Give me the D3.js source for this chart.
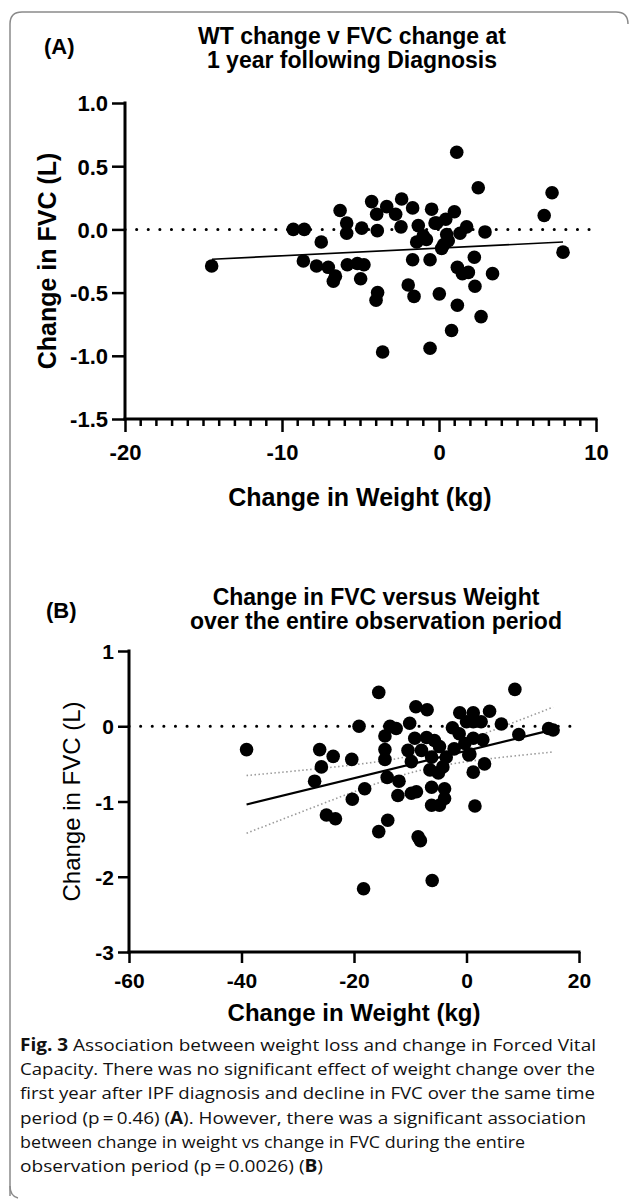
<!DOCTYPE html>
<html>
<head>
<meta charset="utf-8">
<script src="https://cdn.jsdelivr.net/npm/d3@7"></script>
<style>
  body { margin: 0; background: #fff; }
  svg { display: block; }
</style>
</head>
<body>
<svg id="canvas" width="630" height="1200"></svg>
<script>
// panel A: weight change vs FVC change at 1 year
let weightA = [1.13, 2.5, 7.2, 6.7, 7.9, -6.3, -4.29, -3.33, -3.97, -2.76, -2.38, -1.68, -0.47, -0.25, 0.98, 0.43,
  -5.88, -5.88, -4.92, -3.93, -2.42, -1.32, -1.0, -1.42, 0.49, 0.59, 0.17, 1.34, 1.76, 2.93, -7.5, -9.28, -8.58,
  -8.64, -7.8, -7.05, -6.73, -6.6, -5.84, -5.2, -4.78, -4.99, -3.91, -4.01, -1.68, -0.57, -1.96, -1.59, 0.02,
  2.25, 1.17, 1.49, 1.87, 3.41, 2.29, 1.17, 2.68, 0.8, -3.59, -0.57, -14.48, -0.15, -0.8, 0.3]
let fvcA = [0.61, 0.33, 0.29, 0.11, -0.18, 0.15, 0.22, 0.18, 0.12, 0.12, 0.24, 0.17, 0.16, 0.05, 0.14, 0.08,
  0.05, -0.03, 0.01, -0.01, 0.02, 0.03, -0.05, -0.1, -0.04, -0.09, -0.15, -0.03, 0.02, -0.02, -0.1, 0.0, 0.0,
  -0.25, -0.29, -0.3, -0.41, -0.37, -0.28, -0.27, -0.28, -0.39, -0.5, -0.56, -0.24, -0.24, -0.44, -0.53, -0.51,
  -0.22, -0.3, -0.35, -0.34, -0.35, -0.45, -0.6, -0.69, -0.8, -0.97, -0.94, -0.29, 0.05, -0.08, -0.12]
let fitA = [[-14.46, -0.236], [7.9, -0.10]]

// panel B: whole observation period
let weightB = [-39.1, -26.1, -25.8, -27, -23.7, -15.6, 8.6, -19.1, -9.0, -7.0, -1.2, 1.2, 4.1, 6.2, 15.4, 14.6, 9.3,
  -13.6, -12.5, -10.1, -14.5, -2.5, -1.3, 0, 1.2, 2.6, 1.2, 2.9, -9.2, -7.1, -5.7, -4.8, -10.4, -9.8, -14.5,
  -14.5, -8.0, -6.2, -6.5, -3.6, -4.2, 0.4, 3.2, 1.2, -0.3, 0.6, -20.4, -18.1, -20.3, -14.1, -12.0, -12.2,
  -9.8, -8.9, -6.2, -3.9, -3.9, -6.2, -4.8, 1.5, -24.9, -23.3, -14, -15.6, -8.6, -8.2, -6.1, -18.3, -2.2, -5.0]
let fvcB = [-0.31, -0.31, -0.54, -0.73, -0.40, 0.45, 0.49, 0.0, 0.26, 0.22, 0.18, 0.18, 0.20, 0.03, -0.05, -0.03, -0.11,
  0.0, -0.03, 0.04, -0.13, -0.02, -0.10, 0.06, 0.06, 0.06, -0.16, -0.18, -0.16, -0.15, -0.19, -0.27, -0.32, -0.47, -0.31,
  -0.44, -0.32, -0.41, -0.58, -0.41, -0.54, -0.38, -0.50, -0.61, -0.23, -0.37, -0.44, -0.83, -0.97, -0.68, -0.73, -0.92,
  -0.89, -0.87, -0.81, -0.83, -0.96, -1.05, -1.05, -1.06, -1.18, -1.23, -1.25, -1.40, -1.47, -1.52, -2.05, -2.16, -0.30, -0.62]
let fitB = [[-39.1, -1.04], [15.4, -0.044]]
let bandX = [-39.1, -30, -20, -10, 0, 10, 15.4]
let bandUpper = [-0.655, -0.591, -0.512, -0.396, -0.181, 0.097, 0.254]
let bandLower = [-1.421, -1.157, -0.870, -0.620, -0.471, -0.383, -0.342]

let yTicksA = [1.0, 0.5, 0.0, -0.5, -1.0, -1.5]
let xTicksA = [-20, -10, 0, 10]
let yTicksB = [1, 0, -1, -2, -3]
let xTicksB = [-60, -40, -20, 0, 20]

let captionLines = [
  ['Fig. 3', '  Association between weight loss and change in Forced Vital'],
  ['', 'Capacity. There was no significant effect of weight change over the'],
  ['', 'first year after IPF diagnosis and decline in FVC over the same time'],
  ['', 'period (p\u2009=\u20090.46) (', 'A', '). However, there was a significant association'],
  ['', 'between change in weight vs change in FVC during the entire'],
  ['', 'observation period (p\u2009=\u20090.0026) (', 'B', ')']
]
let captionWidths = [576, 575, 575, 566, 505, 303]

let canvas = d3.select('#canvas')
let font = 'Liberation Sans, Arial, Helvetica, sans-serif'
// plain hyphen for negatives, like the original figure
let hyphen = (f) => (v) => f(v).replace('\u2212', '-')

// frame of the figure box
canvas.append('path')
  .attr('d', 'M10,1196 L10,24 Q10,12 22,12 L616,12 Q628,12 628,24')
  .attr('fill', 'none').attr('stroke', '#8a8a8a').attr('stroke-width', 1.5)
canvas.append('path')
  .attr('d', 'M10,1186 Q10,1196 18,1198')
  .attr('fill', 'none').attr('stroke', '#8a8a8a').attr('stroke-width', 1.5)

let drawPanel = (cfg) => {
  let g = canvas.append('g')
  let x = d3.scaleLinear().domain(cfg.xDomain).range([cfg.left, cfg.right])
  let y = d3.scaleLinear().domain(cfg.yDomain).range([cfg.bottom, cfg.top])

  // zero reference line
  g.append('line')
    .attr('x1', cfg.left).attr('x2', cfg.zeroEnd)
    .attr('y1', y(0)).attr('y2', y(0))
    .attr('stroke', '#000').attr('stroke-width', 3)
    .attr('stroke-linecap', 'round')
    .attr('stroke-dasharray', '0.1,11.5')

  if (cfg.band) {
    let bandLine = (vals) => d3.line()
      .x((d, i) => x(bandX[i]))
      .y((d) => y(d))
      .curve(d3.curveNatural)(vals)
    ;[bandUpper, bandLower].forEach(vals => {
      g.append('path')
        .attr('d', bandLine(vals))
        .attr('fill', 'none').attr('stroke', '#9a9a9a')
        .attr('stroke-width', 1.6).attr('stroke-dasharray', '1.5,2.5')
    })
  }

  // points
  g.selectAll('circle')
    .data(cfg.xs.map((v, i) => [v, cfg.ys[i]]))
    .enter()
    .append('circle')
    .attr('cx', d => x(d[0]))
    .attr('cy', d => y(d[1]))
    .attr('r', 6.8)
    .attr('fill', '#000')

  // fitted line
  g.append('line')
    .attr('x1', x(cfg.fit[0][0])).attr('y1', y(cfg.fit[0][1]))
    .attr('x2', x(cfg.fit[1][0])).attr('y2', y(cfg.fit[1][1]))
    .attr('stroke', '#000').attr('stroke-width', cfg.fitWidth)

  // y axis
  let yAxis = g.append('g')
    .attr('transform', 'translate(' + cfg.left + ',0)')
    .call(d3.axisLeft(y).tickValues(cfg.yTicks).tickFormat(hyphen(cfg.yFormat))
      .tickSize(cfg.tickLen).tickPadding(4))
  // x axis
  let xAxis = g.append('g')
    .attr('transform', 'translate(0,' + cfg.bottom + ')')
    .call(d3.axisBottom(x).tickValues(cfg.xTicks).tickFormat(hyphen(d3.format('d')))
      .tickSize(cfg.tickLen).tickPadding(8))
  if (cfg.minor) {
    xAxis.append('g').selectAll('line')
      .data(d3.range(cfg.xDomain[0], cfg.xDomain[1] + 1).filter(v => cfg.xTicks.indexOf(v) < 0))
      .enter().append('line')
      .attr('x1', d => x(d)).attr('x2', d => x(d))
      .attr('y1', 0).attr('y2', 7)
      .attr('stroke', '#000').attr('stroke-width', 2.5)
  }
  ;[yAxis, xAxis].forEach(ax => {
    ax.attr('font-family', font)
    ax.select('.domain').attr('stroke-width', 3).attr('d',
      ax === yAxis ? 'M0,' + (cfg.top - 1.5) + 'V' + (cfg.bottom + 1.5)
        : 'M' + (cfg.left - 1.5) + ',0H' + (cfg.right + 1.5))
    ax.selectAll('.tick line').attr('stroke-width', 2.5)
    ax.selectAll('text')
      .style('font-family', font).attr('font-weight', 'bold')
      .attr('font-size', cfg.tickFont).attr('fill', '#000')
  })
  xAxis.selectAll('.tick text').attr('dy', cfg.xTickDy)
  yAxis.selectAll('.tick text').attr('dy', '0.36em')

  // axis titles
  g.append('text')
    .attr('transform', 'translate(' + cfg.yLabelX + ',' + ((cfg.top + cfg.bottom) / 2) + ') rotate(-90)')
    .attr('text-anchor', 'middle')
    .style('font-family', font).attr('font-weight', cfg.yLabelWeight)
    .attr('font-size', cfg.yLabelFont)
    .text('Change in FVC (L)')
  g.append('text')
    .attr('x', cfg.xLabelX).attr('y', cfg.xLabelY)
    .attr('text-anchor', 'middle')
    .style('font-family', font).attr('font-weight', 'bold')
    .attr('font-size', cfg.xLabelFont)
    .text('Change in Weight (kg)')

  // panel letter and title
  g.append('text')
    .attr('x', cfg.letterX).attr('y', cfg.letterY)
    .style('font-family', font).attr('font-weight', 'bold').attr('font-size', 22)
    .text(cfg.letter)
  cfg.title.forEach((t, i) => {
    g.append('text')
      .attr('x', cfg.titleX).attr('y', cfg.titleY + i * 24)
      .attr('text-anchor', 'middle')
      .style('font-family', font).attr('font-weight', 'bold').attr('font-size', 23)
      .text(t)
  })
}

drawPanel({
  xs: weightA, ys: fvcA, fit: fitA, fitWidth: 1.6,
  xDomain: [-20, 10], yDomain: [-1.5, 1.0],
  left: 125, right: 596, top: 103, bottom: 419,
  zeroEnd: 590, yTicks: yTicksA, xTicks: xTicksA, yFormat: d3.format('.1f'),
  tickLen: 13, minor: true, tickFont: 22, xTickDy: '0.9em',
  yLabelX: 56, yLabelFont: 25, yLabelWeight: 'bold',
  xLabelX: 360, xLabelY: 506, xLabelFont: 25,
  letter: '(A)', letterX: 44, letterY: 54, titleX: 352, titleY: 44,
  title: ['WT change v FVC change at', '1 year following Diagnosis']
})

drawPanel({
  xs: weightB, ys: fvcB, fit: fitB, fitWidth: 2.2, band: true,
  xDomain: [-60, 20], yDomain: [-3, 1],
  left: 129, right: 579, top: 651, bottom: 952,
  zeroEnd: 575, yTicks: yTicksB, xTicks: xTicksB, yFormat: d3.format('d'),
  tickLen: 11, minor: false, tickFont: 21, xTickDy: '0.8em',
  yLabelX: 80, yLabelFont: 24, yLabelWeight: 'normal',
  xLabelX: 354, xLabelY: 1021, xLabelFont: 24,
  letter: '(B)', letterX: 46, letterY: 618, titleX: 376, titleY: 605,
  title: ['Change in FVC versus Weight', 'over the entire observation period']
})

// caption
let cap = canvas.append('g')
captionLines.forEach((parts, i) => {
  let t = cap.append('text')
    .attr('x', 20).attr('y', 1051 + i * 24.2)
    .attr('font-family', '"Open Sans", "Noto Sans", sans-serif')
    .attr('font-size', 17)
    .attr('fill', '#111')
    .attr('textLength', captionWidths[i])
    .attr('lengthAdjust', 'spacingAndGlyphs')
  parts.forEach((p, j) => {
    if (p === '') return
    let bold = (i === 0 && j === 0) || p === 'A' || p === 'B'
    t.append('tspan').attr('font-weight', bold ? 'bold' : 'normal').text(p)
  })
})
</script>
</body>
</html>
